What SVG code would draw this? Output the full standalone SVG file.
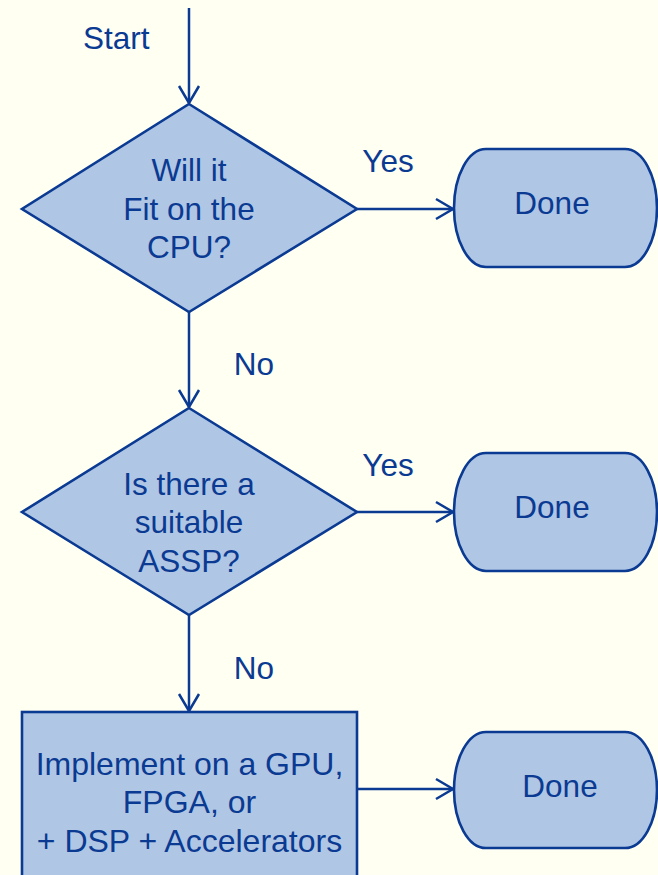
<svg xmlns="http://www.w3.org/2000/svg" width="658" height="875" viewBox="0 0 658 875">
<defs>
<style>
.bg{fill:#FFFFF2}
.shape{fill:#B0C6E5;stroke:#0A3A92;stroke-width:2.6}
.conn{fill:none;stroke:#0A3A92;stroke-width:2.5}
text{font-family:"Liberation Sans",Arial,sans-serif;font-size:31.5px;fill:#0A3A92}
.c{text-anchor:middle}
.big{font-size:32px}
</style>
<marker id="arr" markerUnits="userSpaceOnUse" markerWidth="22" markerHeight="26" refX="18" refY="12" orient="auto">
<path d="M1,2 L18,12 L1,22" fill="none" stroke="#0A3A92" stroke-width="2.5"/>
</marker>
</defs>
<rect class="bg" x="0" y="0" width="658" height="875"/>
<g id="connectors">
<line class="conn" x1="189" y1="8" x2="189" y2="103" marker-end="url(#arr)"/>
<line class="conn" x1="357" y1="209" x2="453" y2="209" marker-end="url(#arr)"/>
<line class="conn" x1="189" y1="312" x2="189" y2="407" marker-end="url(#arr)"/>
<line class="conn" x1="357" y1="512" x2="453" y2="512" marker-end="url(#arr)"/>
<line class="conn" x1="189" y1="615" x2="189" y2="711" marker-end="url(#arr)"/>
<line class="conn" x1="357" y1="789" x2="453" y2="789" marker-end="url(#arr)"/>
<text x="83" y="49">Start</text>
<text x="388" y="172" class="c">Yes</text>
<text x="254" y="375" class="c">No</text>
<text x="388" y="476" class="c">Yes</text>
<text x="254" y="679" class="c">No</text>
</g>
<g id="decision1">
<polygon class="shape" points="189,104 357,209 189,312 22,209"/>
<text class="c" x="189" y="181">Will it</text>
<text class="c" x="189" y="220">Fit on the</text>
<text class="c" x="189" y="258">CPU?</text>
</g>
<g id="done1">
<rect class="shape" x="454" y="149" width="203" height="118" rx="32" ry="59"/>
<text class="c" x="552" y="214">Done</text>
</g>
<g id="decision2">
<polygon class="shape" points="189,408 357,512 189,615 22,512"/>
<text class="c" x="189" y="495">Is there a</text>
<text class="c" x="189" y="533">suitable</text>
<text class="c" x="189" y="572">ASSP?</text>
</g>
<g id="done2">
<rect class="shape" x="454" y="453" width="203" height="118" rx="32" ry="59"/>
<text class="c" x="552" y="518">Done</text>
</g>
<g id="implement">
<rect class="shape" x="22" y="712" width="335" height="180"/>
<text class="c big" x="189.5" y="775">Implement on a GPU,</text>
<text class="c big" x="189.5" y="813">FPGA, or</text>
<text class="c big" x="189.5" y="852">+ DSP + Accelerators</text>
</g>
<g id="done3">
<rect class="shape" x="454" y="732" width="203" height="116" rx="32" ry="58"/>
<text class="c" x="560" y="797">Done</text>
</g>
</svg>
